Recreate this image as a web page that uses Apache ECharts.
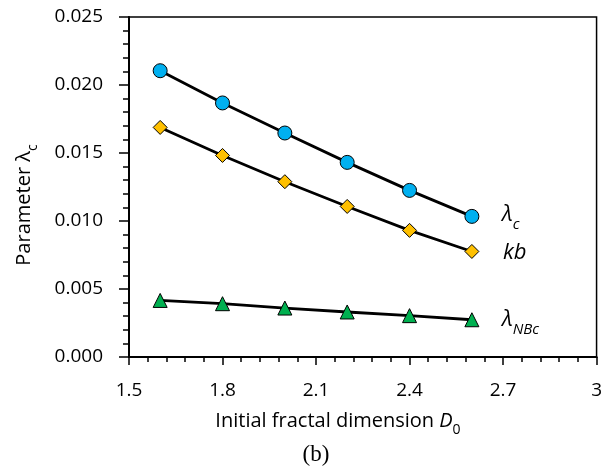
<!DOCTYPE html>
<html><head><meta charset="utf-8">
<script src="https://cdn.jsdelivr.net/npm/echarts@6/dist/echarts.min.js"></script>
<style>html,body{margin:0;padding:0;background:#fff}#c{width:605px;height:469px}</style>
</head><body><div id="c"></div>
<script>
const D0 = [1.6, 1.8, 2.0, 2.2, 2.4, 2.6];
const lambdaC = [0.02105, 0.01868, 0.01647, 0.01431, 0.01225, 0.01034];
const kb = [0.01688, 0.01482, 0.01289, 0.01107, 0.00931, 0.00776];
const lambdaNBc = [0.00416, 0.00392, 0.00360, 0.00331, 0.00304, 0.00274];
const xTicks = [1.5, 1.8, 2.1, 2.4, 2.7, 3];
const yTicks = [0, 0.005, 0.010, 0.015, 0.020, 0.025];

const FONT = 'Open Sans';
const pair = (xs, ys) => xs.map((x, i) => [x, ys[i]]);
const chart = echarts.init(document.getElementById('c'), null, {renderer: 'canvas'});
const sub = {fontFamily: FONT, fontSize: 15, fontStyle: 'italic', verticalAlign: 'bottom', padding: [0, 0, -6, 0], fill: '#000'};
function mk(name, data, symbol, size, color) {
  return {
    name, type: 'line', data, symbol, symbolSize: size,
    lineStyle: {color: '#000', width: 2.8},
    itemStyle: {color, borderColor: '#000', borderWidth: 1},
    emphasis: {disabled: true}, animation: false
  };
}
chart.setOption({
  animation: false,
  grid: {left: 129, right: 5, top: 17, bottom: 112, show: true, borderColor: '#000', borderWidth: 1.5, backgroundColor: 'transparent'},
  xAxis: {
    type: 'value', min: xTicks[0], max: xTicks[xTicks.length - 1], interval: 0.3,
    axisLine: {lineStyle: {color: '#000', width: 2}},
    axisTick: {show: true, length: 8, lineStyle: {color: '#000', width: 1.5}},
    minorTick: {show: true, splitNumber: 5, length: 5, lineStyle: {color: '#000', width: 1.5}},
    splitLine: {show: false},
    axisLabel: {margin: 24, fontFamily: FONT, fontSize: 19, color: '#000',
      formatter: v => String(+v.toFixed(1))}
  },
  yAxis: {
    type: 'value', min: yTicks[0], max: yTicks[yTicks.length - 1], interval: 0.005,
    axisLine: {show: true, lineStyle: {color: '#000', width: 2}},
    axisTick: {show: true, length: 10, lineStyle: {color: '#000', width: 1.5}},
    minorTick: {show: true, splitNumber: 5, length: 6, lineStyle: {color: '#000', width: 1.5}},
    splitLine: {show: false},
    axisLabel: {margin: 26, fontFamily: FONT, fontSize: 19, color: '#000',
      formatter: v => v.toFixed(3)}
  },
  series: [
    mk('λc', pair(D0, lambdaC), 'circle', 14, '#00B0F0'),
    mk('kb', pair(D0, kb), 'diamond', 14, '#FFC000'),
    mk('λNBc', pair(D0, lambdaNBc), 'triangle', 14, '#00B050')
  ],
  graphic: [
    {type: 'text', x: 502, y: 215, style: {text: '{m|λ}{s|c}', textVerticalAlign: 'middle',
      rich: {m: {fontFamily: FONT, fontSize: 22, fontStyle: 'italic', fill: '#000'}, s: sub}}},
    {type: 'text', x: 503, y: 253, style: {text: 'kb', fontFamily: FONT, fontSize: 22, fontStyle: 'italic', fill: '#000', textVerticalAlign: 'middle'}},
    {type: 'text', x: 502, y: 320, style: {text: '{m|λ}{s|NBc}', textVerticalAlign: 'middle',
      rich: {m: {fontFamily: FONT, fontSize: 22, fontStyle: 'italic', fill: '#000'}, s: sub}}},
    {type: 'text', x: 338, y: 421, style: {text: '{m|Initial fractal dimension }{i|D}{s|0}', textAlign: 'center', textVerticalAlign: 'middle',
      rich: {m: {fontFamily: FONT, fontSize: 20, fill: '#000'}, i: {fontFamily: FONT, fontSize: 20, fontStyle: 'italic', fill: '#000'},
        s: {fontFamily: FONT, fontSize: 14, verticalAlign: 'bottom', padding: [0, 0, -6, 0], fill: '#000'}}}},
    {type: 'text', x: 24, y: 205, rotation: Math.PI / 2, style: {text: '{m|Parameter }{i|λ}{s|c}', textAlign: 'center', textVerticalAlign: 'middle',
      rich: {m: {fontFamily: FONT, fontSize: 20, fill: '#000'}, i: {fontFamily: FONT, fontSize: 20, fill: '#000'},
        s: {fontFamily: FONT, fontSize: 14, verticalAlign: 'bottom', padding: [0, 0, -6, 0], fill: '#000'}}}},
    {type: 'text', x: 316, y: 455, style: {text: '(b)', fontFamily: 'Liberation Serif', fontSize: 23, fill: '#000', textAlign: 'center', textVerticalAlign: 'middle'}}
  ]
});
</script></body></html>
